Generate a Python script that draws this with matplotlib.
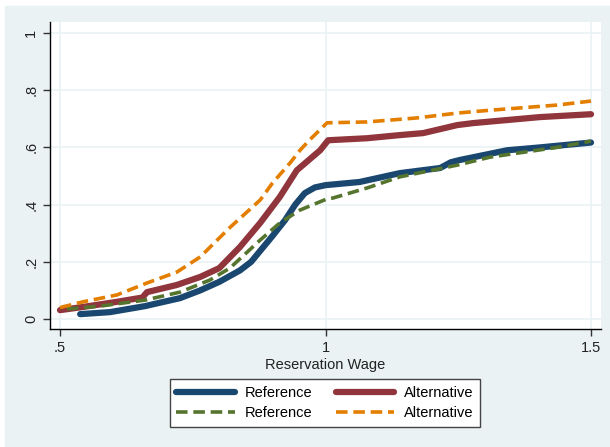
import matplotlib
matplotlib.use('Agg')
import matplotlib.pyplot as plt
from matplotlib.patches import Rectangle

plt.rcParams['font.family'] = ['Liberation Sans', 'DejaVu Sans']

# Reference (solid)
ref_x = [0.538, 0.594, 0.66, 0.726, 0.764, 0.80, 0.839, 0.86, 0.88, 0.90, 0.924,
         0.943, 0.961, 0.98, 1.0, 1.064, 1.14, 1.216, 1.236, 1.253, 1.342, 1.404, 1.5]
ref_y = [0.017, 0.024, 0.045, 0.073, 0.10, 0.13, 0.17, 0.20, 0.245, 0.29, 0.346,
         0.40, 0.44, 0.46, 0.468, 0.479, 0.51, 0.528, 0.548, 0.556, 0.59, 0.60, 0.617]

# Reference (dashed)
ref2_x = [0.513, 0.575, 0.66, 0.726, 0.782, 0.82, 0.877, 0.914, 0.952, 1.003,
          1.014, 1.078, 1.14, 1.248, 1.31, 1.436, 1.5]
ref2_y = [0.035, 0.045, 0.066, 0.094, 0.136, 0.178, 0.276, 0.336, 0.381, 0.42,
          0.423, 0.458, 0.497, 0.538, 0.566, 0.60, 0.622]

# Alternative (solid)
alt_x = [0.5, 0.543, 0.607, 0.655, 0.664, 0.72, 0.764, 0.80, 0.839, 0.877, 0.914,
         0.946, 0.99, 1.005, 1.078, 1.14, 1.184, 1.248, 1.278, 1.404, 1.5]
alt_y = [0.031, 0.042, 0.06, 0.075, 0.094, 0.119, 0.147, 0.178, 0.252, 0.336, 0.427,
         0.52, 0.59, 0.625, 0.632, 0.643, 0.65, 0.678, 0.685, 0.706, 0.716]

# Alternative (dashed)
alt2_x = [0.5, 0.543, 0.607, 0.664, 0.72, 0.764, 0.82, 0.877, 0.90, 0.933, 0.952,
          0.97, 1.003, 1.078, 1.172, 1.248, 1.31, 1.436, 1.5]
alt2_y = [0.04, 0.06, 0.084, 0.126, 0.164, 0.217, 0.32, 0.416, 0.475, 0.545, 0.59,
          0.626, 0.686, 0.689, 0.703, 0.72, 0.73, 0.748, 0.762]

xticks = [0.5, 1, 1.5]
xticklabels = ['.5', '1', '1.5']
yticks = [0, 0.2, 0.4, 0.6, 0.8, 1]
yticklabels = ['0', '.2', '.4', '.6', '.8', '1']

bg = '#eaf2f3'
navy = '#1a476f'
maroon = '#90353b'
green = '#55752f'
orange = '#e37e00'

fig = plt.figure(figsize=(6.1, 4.47), dpi=100, facecolor='white')
fig.patches.append(Rectangle((5 / 610, 0), 1, 441 / 447, transform=fig.transFigure,
                             color=bg, zorder=-10))

ax = fig.add_axes([50 / 610, (447 - 329) / 447, 551 / 610, 307 / 447])
ax.set_facecolor('white')

l1, = ax.plot(ref_x, ref_y, color=navy, lw=4.5, solid_capstyle='round', label='Reference')
l3, = ax.plot(alt_x, alt_y, color=maroon, lw=4.5, solid_capstyle='round', label='Alternative')
l2, = ax.plot(ref2_x, ref2_y, color=green, lw=2.6, dashes=(3.2, 1.6), label='Reference')
l4, = ax.plot(alt2_x, alt2_y, color=orange, lw=2.6, dashes=(3.2, 1.6), label='Alternative')

ax.set_xlim(0.5 - 10 / 531, 1.5 + 10 / 531)
ax.set_ylim(-10 / 286, 1 + 11 / 286)
ax.set_xticks(xticks)
ax.set_xticklabels(xticklabels)
ax.set_yticks(yticks)
ax.set_yticklabels(yticklabels, rotation=90, va='center')
ax.tick_params(axis='both', labelsize=10.5, length=5, width=1, color='#333333',
               labelcolor='#222222')
ax.grid(True, color=bg, lw=1.2)
ax.set_axisbelow(True)
for s in ['top', 'right']:
    ax.spines[s].set_visible(False)
for s in ['left', 'bottom']:
    ax.spines[s].set_color('black')
    ax.spines[s].set_linewidth(1)

ax.set_xlabel('Reservation Wage', fontsize=10.5, color='#222222', labelpad=2)

leg = fig.legend(handles=[l1, l2, l3, l4], loc='center', ncol=2,
                 bbox_to_anchor=(325 / 610, 1 - 403 / 447), fontsize=10.5,
                 frameon=True, fancybox=False, framealpha=1, edgecolor='#444444',
                 handlelength=4.0, columnspacing=1.6, handletextpad=0.7,
                 borderpad=0.45, labelspacing=0.45, borderaxespad=0)
leg.get_frame().set_linewidth(1)

fig.savefig('out.png', dpi=100, facecolor=fig.get_facecolor())
